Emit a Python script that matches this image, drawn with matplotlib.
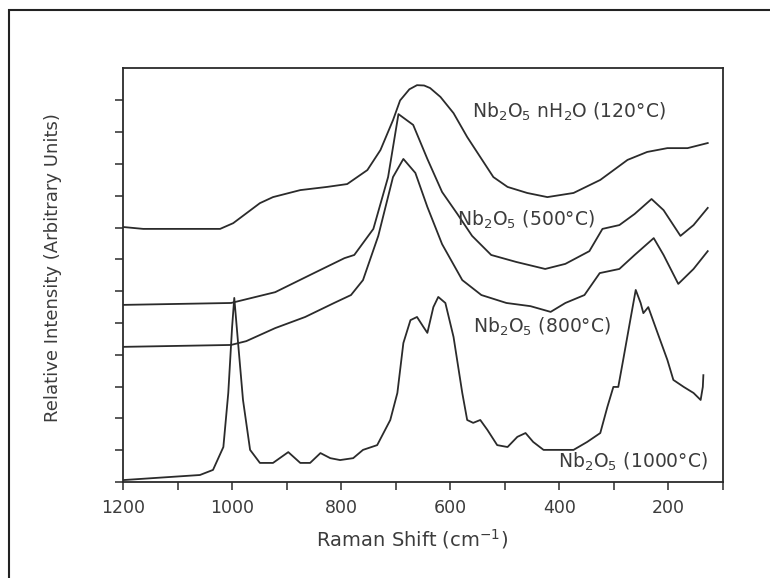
import matplotlib.pyplot as plt
from matplotlib.patches import Rectangle
import numpy as np

# ---- data (Raman shift in cm-1, intensity in arb. units) ----
# Nb2O5 nH2O (120 C)
shift_120 = [1200, 1163, 1022, 998, 949, 925, 875, 826, 789, 752, 728, 705, 692, 675, 661, 648, 637,
             618, 594, 569, 545, 521, 495, 459, 422, 374, 325, 275, 239, 202, 165, 128]
int_120 = [8.02, 7.96, 7.96, 8.14, 8.77, 8.96, 9.18, 9.28, 9.37, 9.81, 10.44, 11.38, 12.0, 12.35, 12.48, 12.47, 12.39,
           12.11, 11.60, 10.85, 10.22, 9.59, 9.28, 9.09, 8.96, 9.09, 9.50, 10.13, 10.38, 10.50, 10.50, 10.66]

# Nb2O5 (500 C)
shift_500 = [1200, 1002, 921, 850, 794, 776, 741, 714, 695, 668, 642, 615, 587, 560,
             525, 479, 426, 389, 345, 321, 290, 262, 231, 209, 178, 154, 128]
int_500 = [5.57, 5.63, 5.97, 6.57, 7.04, 7.14, 7.96, 9.59, 11.57, 11.23, 10.16, 9.12, 8.43, 7.74,
           7.14, 6.92, 6.70, 6.86, 7.26, 7.96, 8.08, 8.43, 8.90, 8.55, 7.74, 8.08, 8.62]

# Nb2O5 (800 C)
shift_800 = [1200, 1002, 974, 921, 866, 813, 782, 760, 732, 705, 686, 664, 642, 615, 578,
             543, 497, 453, 416, 389, 354, 326, 290, 262, 227, 209, 182, 154, 128]
int_800 = [4.25, 4.31, 4.43, 4.84, 5.19, 5.63, 5.88, 6.35, 7.74, 9.59, 10.16, 9.72, 8.65, 7.48, 6.35,
           5.88, 5.63, 5.53, 5.35, 5.63, 5.88, 6.57, 6.70, 7.14, 7.67, 7.14, 6.23, 6.70, 7.26]

# Nb2O5 (1000 C)
shift_1000 = [1200, 1059, 1035, 1016, 1007, 1000, 996, 989, 980, 967, 949, 925, 897, 875, 857,
              838, 820, 802, 778, 760, 734, 710, 697, 686, 673, 661, 649, 642, 631, 622,
              609, 594, 578, 569, 558, 545, 532, 514, 495, 477, 462, 448, 429, 404, 374,
              349, 325, 312, 301, 292, 283, 270, 260, 251, 246, 237, 220, 202, 191, 172,
              154, 141, 137, 136]
int_1000 = [0.06, 0.22, 0.38, 1.10, 2.80, 4.87, 5.79, 4.37, 2.58, 1.01, 0.60, 0.60, 0.94, 0.60, 0.60,
            0.91, 0.75, 0.69, 0.75, 1.01, 1.16, 1.95, 2.80, 4.37, 5.09, 5.19, 4.87, 4.69, 5.50, 5.82,
            5.63, 4.56, 2.80, 1.95, 1.86, 1.95, 1.64, 1.16, 1.10, 1.42, 1.54, 1.26, 1.01, 1.01, 1.01,
            1.26, 1.54, 2.36, 2.99, 2.99, 3.84, 5.09, 6.04, 5.63, 5.31, 5.50, 4.69, 3.84, 3.21, 2.99,
            2.80, 2.58, 2.99, 3.36]

labels = [r'Nb$_2$O$_5$ nH$_2$O (120°C)', r'Nb$_2$O$_5$ (500°C)',
          r'Nb$_2$O$_5$ (800°C)', r'Nb$_2$O$_5$ (1000°C)']
label_x = [560, 587, 558, 402]      # left edge of each label, cm-1
label_y = [11.64, 8.24, 4.87, 0.63]

ink = '#2b2b2b'
txt = '#3c3c3c'

fig = plt.figure(figsize=(7.7, 5.78), dpi=100)
ax = fig.add_axes([123/770, 1 - 482/578, 600/770, 414/578])

ax.plot(shift_120, int_120, color=ink, lw=1.3)
ax.plot(shift_500, int_500, color=ink, lw=1.3)
ax.plot(shift_800, int_800, color=ink, lw=1.3)
ax.plot(shift_1000, int_1000, color=ink, lw=1.3)

for lab, lx, ly in zip(labels, label_x, label_y):
    ax.text(lx, ly, lab, fontsize=13.5, color=txt, ha='left', va='center')

ax.set_xlim(1200, 100)
ax.set_ylim(0, 13.02)
ax.set_xticks([1200, 1000, 800, 600, 400, 200])
ax.set_xticks([1100, 900, 700, 500, 300, 100], minor=True)
ax.set_yticks(np.arange(0, 13))
ax.set_yticklabels([])
ax.tick_params(axis='both', which='both', direction='out', length=6, width=1.1, color=ink)
ax.tick_params(axis='x', labelsize=12.5, labelcolor=txt, pad=6)
for sp in ax.spines.values():
    sp.set_color(ink)
    sp.set_linewidth(1.3)

ax.set_xlabel('Raman Shift (cm$^{-1}$)', fontsize=14, color=txt)
ax.xaxis.set_label_coords((412 - 123) / 600, -0.11)
ax.set_ylabel('Relative Intensity (Arbitrary Units)', fontsize=13, color=txt)
ax.yaxis.set_label_coords((62 - 123) / 600, 0.517)

# outer border of the scanned figure
fig.patches.append(Rectangle((9/770, -0.1), 1.2, 0.1 + 1 - 10/578, transform=fig.transFigure,
                             fill=False, edgecolor='#222222', lw=1.5))

plt.savefig('out.png')
